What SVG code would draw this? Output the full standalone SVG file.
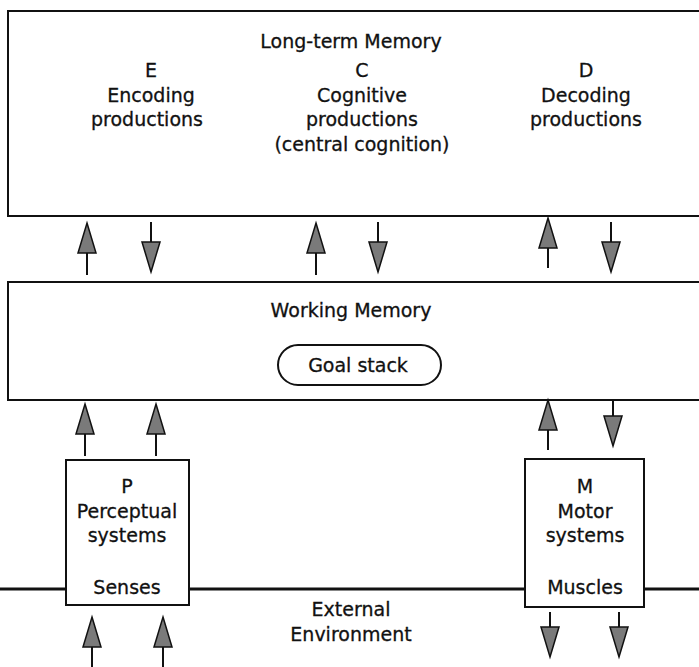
<svg xmlns="http://www.w3.org/2000/svg" width="699" height="667" viewBox="0 0 699 667">
  <style>
    .box { fill: #fff; stroke: #111; stroke-width: 2; }
    .t { font-family: "DejaVu Sans", "Liberation Sans", sans-serif; font-size: 19px; fill: #111; stroke: #111; stroke-width: 0.3; text-anchor: middle; }
    .shaft { stroke: #111; stroke-width: 2; fill: none; }
    .head { fill: #7a7a7a; stroke: #111; stroke-width: 1.5; stroke-linejoin: miter; }
    .ground { stroke: #111; stroke-width: 3; fill: none; }
  </style>
  <defs>
    <!-- arrowheads: tip at origin, length 30, width 18 -->
    <polygon id="up" class="head" points="0,0 9,30 -9,30"/>
    <polygon id="down" class="head" points="0,0 9,-30 -9,-30"/>
  </defs>

  <rect width="699" height="667" fill="#fff"/>

  <!-- environment boundary line -->
  <g id="ground">
    <line class="ground" x1="0" y1="589" x2="66" y2="589"/>
    <line class="ground" x1="189" y1="589" x2="525" y2="589"/>
    <line class="ground" x1="644" y1="589" x2="699" y2="589"/>
  </g>

  <g id="long-term-memory">
    <rect class="box" x="8" y="11" width="700" height="205"/>
    <text class="t" x="351" y="48">Long-term Memory</text>
    <text class="t" x="151" y="77">E</text>
    <text class="t" x="151" y="102">Encoding</text>
    <text class="t" x="147" y="126">productions</text>
    <text class="t" x="362" y="77">C</text>
    <text class="t" x="362" y="102">Cognitive</text>
    <text class="t" x="362" y="126">productions</text>
    <text class="t" x="362" y="151">(central cognition)</text>
    <text class="t" x="586" y="77">D</text>
    <text class="t" x="586" y="102">Decoding</text>
    <text class="t" x="586" y="126">productions</text>
  </g>

  <g id="working-memory">
    <rect class="box" x="8" y="282" width="700" height="118"/>
    <text class="t" x="351" y="317">Working Memory</text>
  </g>

  <g id="goal-stack">
    <rect class="box" x="278" y="345" width="163" height="40" rx="20"/>
    <text class="t" x="358" y="372">Goal stack</text>
  </g>

  <g id="perceptual">
    <rect class="box" x="66" y="460" width="123" height="145"/>
    <text class="t" x="127" y="493">P</text>
    <text class="t" x="127" y="518">Perceptual</text>
    <text class="t" x="127" y="542">systems</text>
    <text class="t" x="127" y="594">Senses</text>
  </g>

  <g id="motor">
    <rect class="box" x="525" y="459" width="119" height="148"/>
    <text class="t" x="585" y="493">M</text>
    <text class="t" x="585" y="518">Motor</text>
    <text class="t" x="585" y="542">systems</text>
    <text class="t" x="585" y="594">Muscles</text>
  </g>

  <g id="environment">
    <text class="t" x="351" y="616">External</text>
    <text class="t" x="351" y="641">Environment</text>
  </g>

  <g id="connectors">
    <!-- WM -> LTM / LTM -> WM -->
    <line class="shaft" x1="87" y1="275" x2="87" y2="250"/><use href="#up" x="87" y="223"/>
    <line class="shaft" x1="151" y1="222" x2="151" y2="243"/><use href="#down" x="151" y="272"/>
    <line class="shaft" x1="316" y1="275" x2="316" y2="250"/><use href="#up" x="316" y="223"/>
    <line class="shaft" x1="378" y1="222" x2="378" y2="243"/><use href="#down" x="378" y="272"/>
    <line class="shaft" x1="548" y1="268" x2="548" y2="245"/><use href="#up" x="548" y="218"/>
    <line class="shaft" x1="611" y1="222" x2="611" y2="243"/><use href="#down" x="611" y="272"/>
    <!-- P -> WM -->
    <line class="shaft" x1="85" y1="456" x2="85" y2="430"/><use href="#up" x="85" y="404"/>
    <line class="shaft" x1="156" y1="456" x2="156" y2="430"/><use href="#up" x="156" y="404"/>
    <!-- WM -> M, M -> WM -->
    <line class="shaft" x1="548" y1="450" x2="548" y2="426"/><use href="#up" x="548" y="400"/>
    <line class="shaft" x1="613" y1="400" x2="613" y2="420"/><use href="#down" x="613" y="446"/>
    <!-- environment -> P -->
    <line class="shaft" x1="92" y1="667" x2="92" y2="643"/><use href="#up" x="92" y="617"/>
    <line class="shaft" x1="163" y1="667" x2="163" y2="643"/><use href="#up" x="163" y="617"/>
    <!-- M -> environment -->
    <line class="shaft" x1="550" y1="612" x2="550" y2="632"/><use href="#down" x="550" y="657"/>
    <line class="shaft" x1="619" y1="612" x2="619" y2="632"/><use href="#down" x="619" y="657"/>
  </g>
</svg>
